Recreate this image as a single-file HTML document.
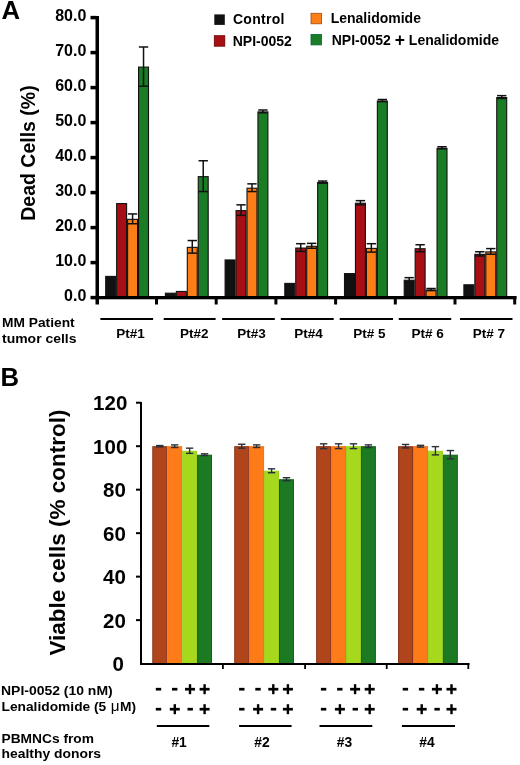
<!DOCTYPE html>
<html><head><meta charset="utf-8"><style>
html,body{margin:0;padding:0;background:#fff;}
body{width:520px;height:765px;overflow:hidden;font-family:"Liberation Sans",sans-serif;}
svg{display:block;will-change:transform;}
</style></head><body>
<svg width="520" height="765" viewBox="0 0 520 765">
<rect width="520" height="765" fill="#fff"/>
<text x="1.6" y="18.75" font-family="'Liberation Sans', sans-serif" font-weight="bold" font-size="25.7">A</text>
<text transform="translate(35,220.8) rotate(-90)" font-family="'Liberation Sans', sans-serif" font-weight="bold" font-size="19.5">Dead Cells (%)</text>
<rect x="90.5" y="295.85" width="6" height="3.5" fill="#000"/>
<text x="86.3" y="301.10" text-anchor="end" font-family="'Liberation Sans', sans-serif" font-weight="bold" font-size="16">0.0</text>
<rect x="90.5" y="260.85" width="6" height="3.5" fill="#000"/>
<text x="86.3" y="266.10" text-anchor="end" font-family="'Liberation Sans', sans-serif" font-weight="bold" font-size="16">10.0</text>
<rect x="90.5" y="225.85" width="6" height="3.5" fill="#000"/>
<text x="86.3" y="231.10" text-anchor="end" font-family="'Liberation Sans', sans-serif" font-weight="bold" font-size="16">20.0</text>
<rect x="90.5" y="190.85" width="6" height="3.5" fill="#000"/>
<text x="86.3" y="196.10" text-anchor="end" font-family="'Liberation Sans', sans-serif" font-weight="bold" font-size="16">30.0</text>
<rect x="90.5" y="155.85" width="6" height="3.5" fill="#000"/>
<text x="86.3" y="161.10" text-anchor="end" font-family="'Liberation Sans', sans-serif" font-weight="bold" font-size="16">40.0</text>
<rect x="90.5" y="120.85" width="6" height="3.5" fill="#000"/>
<text x="86.3" y="126.10" text-anchor="end" font-family="'Liberation Sans', sans-serif" font-weight="bold" font-size="16">50.0</text>
<rect x="90.5" y="85.85" width="6" height="3.5" fill="#000"/>
<text x="86.3" y="91.10" text-anchor="end" font-family="'Liberation Sans', sans-serif" font-weight="bold" font-size="16">60.0</text>
<rect x="90.5" y="50.85" width="6" height="3.5" fill="#000"/>
<text x="86.3" y="56.10" text-anchor="end" font-family="'Liberation Sans', sans-serif" font-weight="bold" font-size="16">70.0</text>
<rect x="90.5" y="15.85" width="6" height="3.5" fill="#000"/>
<text x="86.3" y="21.10" text-anchor="end" font-family="'Liberation Sans', sans-serif" font-weight="bold" font-size="16">80.0</text>
<rect x="105.70" y="276.40" width="9.95" height="21.70" fill="#111111" stroke="#111" stroke-width="1.1"/>
<rect x="116.65" y="203.60" width="9.95" height="94.50" fill="#a80f14" stroke="#111" stroke-width="1.1"/>
<rect x="127.60" y="219.35" width="9.95" height="78.75" fill="#fd7e17" stroke="#111" stroke-width="1.1"/>
<rect x="138.55" y="67.10" width="9.95" height="231.00" fill="#1a7d25" stroke="#111" stroke-width="1.1"/>
<line x1="132.57" y1="213.95" x2="132.57" y2="223.75" stroke="#111" stroke-width="1.5"/>
<line x1="127.90" y1="213.95" x2="137.25" y2="213.95" stroke="#111" stroke-width="1.5"/>
<line x1="127.90" y1="223.75" x2="137.25" y2="223.75" stroke="#111" stroke-width="1.5"/>
<line x1="143.53" y1="47.00" x2="143.53" y2="86.20" stroke="#111" stroke-width="1.5"/>
<line x1="138.85" y1="47.00" x2="148.20" y2="47.00" stroke="#111" stroke-width="1.5"/>
<line x1="138.85" y1="86.20" x2="148.20" y2="86.20" stroke="#111" stroke-width="1.5"/>
<rect x="165.40" y="293.20" width="9.95" height="4.90" fill="#111111" stroke="#111" stroke-width="1.1"/>
<rect x="176.35" y="291.45" width="9.95" height="6.65" fill="#a80f14" stroke="#111" stroke-width="1.1"/>
<rect x="187.30" y="247.35" width="9.95" height="50.75" fill="#fd7e17" stroke="#111" stroke-width="1.1"/>
<rect x="198.25" y="176.65" width="9.95" height="121.45" fill="#1a7d25" stroke="#111" stroke-width="1.1"/>
<line x1="192.28" y1="240.55" x2="192.28" y2="253.15" stroke="#111" stroke-width="1.5"/>
<line x1="187.60" y1="240.55" x2="196.95" y2="240.55" stroke="#111" stroke-width="1.5"/>
<line x1="187.60" y1="253.15" x2="196.95" y2="253.15" stroke="#111" stroke-width="1.5"/>
<line x1="203.22" y1="160.75" x2="203.22" y2="191.55" stroke="#111" stroke-width="1.5"/>
<line x1="198.55" y1="160.75" x2="207.90" y2="160.75" stroke="#111" stroke-width="1.5"/>
<line x1="198.55" y1="191.55" x2="207.90" y2="191.55" stroke="#111" stroke-width="1.5"/>
<rect x="225.10" y="259.95" width="9.95" height="38.15" fill="#111111" stroke="#111" stroke-width="1.1"/>
<rect x="236.05" y="210.60" width="9.95" height="87.50" fill="#a80f14" stroke="#111" stroke-width="1.1"/>
<rect x="247.00" y="188.20" width="9.95" height="109.90" fill="#fd7e17" stroke="#111" stroke-width="1.1"/>
<rect x="257.95" y="111.90" width="9.95" height="186.20" fill="#1a7d25" stroke="#111" stroke-width="1.1"/>
<line x1="241.03" y1="204.85" x2="241.03" y2="215.35" stroke="#111" stroke-width="1.5"/>
<line x1="236.35" y1="204.85" x2="245.70" y2="204.85" stroke="#111" stroke-width="1.5"/>
<line x1="236.35" y1="215.35" x2="245.70" y2="215.35" stroke="#111" stroke-width="1.5"/>
<line x1="251.98" y1="183.85" x2="251.98" y2="191.55" stroke="#111" stroke-width="1.5"/>
<line x1="247.30" y1="183.85" x2="256.65" y2="183.85" stroke="#111" stroke-width="1.5"/>
<line x1="247.30" y1="191.55" x2="256.65" y2="191.55" stroke="#111" stroke-width="1.5"/>
<line x1="262.93" y1="110.00" x2="262.93" y2="112.80" stroke="#111" stroke-width="1.5"/>
<line x1="258.25" y1="110.00" x2="267.60" y2="110.00" stroke="#111" stroke-width="1.5"/>
<line x1="258.25" y1="112.80" x2="267.60" y2="112.80" stroke="#111" stroke-width="1.5"/>
<rect x="284.80" y="283.40" width="9.95" height="14.70" fill="#111111" stroke="#111" stroke-width="1.1"/>
<rect x="295.75" y="248.05" width="9.95" height="50.05" fill="#a80f14" stroke="#111" stroke-width="1.1"/>
<rect x="306.70" y="246.30" width="9.95" height="51.80" fill="#fd7e17" stroke="#111" stroke-width="1.1"/>
<rect x="317.65" y="182.60" width="9.95" height="115.50" fill="#1a7d25" stroke="#111" stroke-width="1.1"/>
<line x1="300.73" y1="243.70" x2="300.73" y2="251.40" stroke="#111" stroke-width="1.5"/>
<line x1="296.05" y1="243.70" x2="305.40" y2="243.70" stroke="#111" stroke-width="1.5"/>
<line x1="296.05" y1="251.40" x2="305.40" y2="251.40" stroke="#111" stroke-width="1.5"/>
<line x1="311.68" y1="243.35" x2="311.68" y2="248.25" stroke="#111" stroke-width="1.5"/>
<line x1="307.00" y1="243.35" x2="316.35" y2="243.35" stroke="#111" stroke-width="1.5"/>
<line x1="307.00" y1="248.25" x2="316.35" y2="248.25" stroke="#111" stroke-width="1.5"/>
<line x1="322.62" y1="181.05" x2="322.62" y2="183.15" stroke="#111" stroke-width="1.5"/>
<line x1="317.95" y1="181.05" x2="327.30" y2="181.05" stroke="#111" stroke-width="1.5"/>
<line x1="317.95" y1="183.15" x2="327.30" y2="183.15" stroke="#111" stroke-width="1.5"/>
<rect x="344.50" y="273.60" width="9.95" height="24.50" fill="#111111" stroke="#111" stroke-width="1.1"/>
<rect x="355.45" y="203.25" width="9.95" height="94.85" fill="#a80f14" stroke="#111" stroke-width="1.1"/>
<rect x="366.40" y="248.40" width="9.95" height="49.70" fill="#fd7e17" stroke="#111" stroke-width="1.1"/>
<rect x="377.35" y="101.05" width="9.95" height="197.05" fill="#1a7d25" stroke="#111" stroke-width="1.1"/>
<line x1="360.43" y1="200.65" x2="360.43" y2="204.85" stroke="#111" stroke-width="1.5"/>
<line x1="355.75" y1="200.65" x2="365.10" y2="200.65" stroke="#111" stroke-width="1.5"/>
<line x1="355.75" y1="204.85" x2="365.10" y2="204.85" stroke="#111" stroke-width="1.5"/>
<line x1="371.38" y1="243.70" x2="371.38" y2="252.10" stroke="#111" stroke-width="1.5"/>
<line x1="366.70" y1="243.70" x2="376.05" y2="243.70" stroke="#111" stroke-width="1.5"/>
<line x1="366.70" y1="252.10" x2="376.05" y2="252.10" stroke="#111" stroke-width="1.5"/>
<line x1="382.33" y1="99.50" x2="382.33" y2="101.60" stroke="#111" stroke-width="1.5"/>
<line x1="377.65" y1="99.50" x2="387.00" y2="99.50" stroke="#111" stroke-width="1.5"/>
<line x1="377.65" y1="101.60" x2="387.00" y2="101.60" stroke="#111" stroke-width="1.5"/>
<rect x="404.20" y="280.25" width="9.95" height="17.85" fill="#111111" stroke="#111" stroke-width="1.1"/>
<rect x="415.15" y="248.75" width="9.95" height="49.35" fill="#a80f14" stroke="#111" stroke-width="1.1"/>
<rect x="426.10" y="290.05" width="9.95" height="8.05" fill="#fd7e17" stroke="#111" stroke-width="1.1"/>
<rect x="437.05" y="148.30" width="9.95" height="149.80" fill="#1a7d25" stroke="#111" stroke-width="1.1"/>
<line x1="409.18" y1="277.65" x2="409.18" y2="281.85" stroke="#111" stroke-width="1.5"/>
<line x1="404.50" y1="277.65" x2="413.85" y2="277.65" stroke="#111" stroke-width="1.5"/>
<line x1="404.50" y1="281.85" x2="413.85" y2="281.85" stroke="#111" stroke-width="1.5"/>
<line x1="420.12" y1="244.75" x2="420.12" y2="251.75" stroke="#111" stroke-width="1.5"/>
<line x1="415.45" y1="244.75" x2="424.80" y2="244.75" stroke="#111" stroke-width="1.5"/>
<line x1="415.45" y1="251.75" x2="424.80" y2="251.75" stroke="#111" stroke-width="1.5"/>
<line x1="431.07" y1="288.50" x2="431.07" y2="290.60" stroke="#111" stroke-width="1.5"/>
<line x1="426.40" y1="288.50" x2="435.75" y2="288.50" stroke="#111" stroke-width="1.5"/>
<line x1="426.40" y1="290.60" x2="435.75" y2="290.60" stroke="#111" stroke-width="1.5"/>
<line x1="442.02" y1="146.75" x2="442.02" y2="148.85" stroke="#111" stroke-width="1.5"/>
<line x1="437.35" y1="146.75" x2="446.70" y2="146.75" stroke="#111" stroke-width="1.5"/>
<line x1="437.35" y1="148.85" x2="446.70" y2="148.85" stroke="#111" stroke-width="1.5"/>
<rect x="463.90" y="284.80" width="9.95" height="13.30" fill="#111111" stroke="#111" stroke-width="1.1"/>
<rect x="474.85" y="254.35" width="9.95" height="43.75" fill="#a80f14" stroke="#111" stroke-width="1.1"/>
<rect x="485.80" y="251.90" width="9.95" height="46.20" fill="#fd7e17" stroke="#111" stroke-width="1.1"/>
<rect x="496.75" y="97.55" width="9.95" height="200.55" fill="#1a7d25" stroke="#111" stroke-width="1.1"/>
<line x1="479.83" y1="251.75" x2="479.83" y2="255.95" stroke="#111" stroke-width="1.5"/>
<line x1="475.15" y1="251.75" x2="484.50" y2="251.75" stroke="#111" stroke-width="1.5"/>
<line x1="475.15" y1="255.95" x2="484.50" y2="255.95" stroke="#111" stroke-width="1.5"/>
<line x1="490.78" y1="248.60" x2="490.78" y2="254.20" stroke="#111" stroke-width="1.5"/>
<line x1="486.10" y1="248.60" x2="495.45" y2="248.60" stroke="#111" stroke-width="1.5"/>
<line x1="486.10" y1="254.20" x2="495.45" y2="254.20" stroke="#111" stroke-width="1.5"/>
<line x1="501.73" y1="95.65" x2="501.73" y2="98.45" stroke="#111" stroke-width="1.5"/>
<line x1="497.05" y1="95.65" x2="506.40" y2="95.65" stroke="#111" stroke-width="1.5"/>
<line x1="497.05" y1="98.45" x2="506.40" y2="98.45" stroke="#111" stroke-width="1.5"/>
<rect x="95.5" y="16" width="3.5" height="288.5" fill="#000"/>
<rect x="95.5" y="296" width="421" height="3.3" fill="#000"/>
<rect x="155.00" y="296" width="3" height="8.5" fill="#000"/>
<rect x="214.70" y="296" width="3" height="8.5" fill="#000"/>
<rect x="274.40" y="296" width="3" height="8.5" fill="#000"/>
<rect x="334.10" y="296" width="3" height="8.5" fill="#000"/>
<rect x="393.80" y="296" width="3" height="8.5" fill="#000"/>
<rect x="453.50" y="296" width="3" height="8.5" fill="#000"/>
<rect x="513.20" y="296" width="3" height="8.5" fill="#000"/>
<rect x="214.3" y="14.4" width="10.5" height="10.5" fill="#111"/>
<rect x="214.3" y="35.7" width="10.5" height="10.5" fill="#a80f14" stroke="#600" stroke-width="0.8"/>
<rect x="311" y="13.3" width="10.5" height="10.5" fill="#fd7e17" stroke="#a04a10" stroke-width="0.8"/>
<rect x="311" y="34.4" width="10.5" height="10.5" fill="#1a7d25" stroke="#063" stroke-width="0.8"/>
<text x="232.9" y="23.9" font-family="'Liberation Sans', sans-serif" font-weight="bold" font-size="14" letter-spacing="0.3">Control</text>
<text x="232.7" y="45.9" font-family="'Liberation Sans', sans-serif" font-weight="bold" font-size="14">NPI-0052</text>
<text x="330.7" y="23.4" font-family="'Liberation Sans', sans-serif" font-weight="bold" font-size="14">Lenalidomide</text>
<text x="331.7" y="44.9" font-family="'Liberation Sans', sans-serif" font-weight="bold" font-size="14">NPI-0052 <tspan font-size="17.5" dy="0.6">+</tspan><tspan dy="-0.6"> Lenalidomide</tspan></text>
<text transform="translate(2,326.8) scale(1.02,1)" font-family="'Liberation Sans', sans-serif" font-weight="bold" font-size="13.5">MM Patient</text>
<text transform="translate(2,343) scale(1.02,1)" font-family="'Liberation Sans', sans-serif" font-weight="bold" font-size="13.7">tumor cells</text>
<rect x="100.40" y="318" width="52.70" height="2" fill="#000"/>
<rect x="163.70" y="318" width="51.90" height="2" fill="#000"/>
<rect x="222.10" y="318" width="52.70" height="2" fill="#000"/>
<rect x="280.80" y="318" width="52.90" height="2" fill="#000"/>
<rect x="339.70" y="318" width="53.30" height="2" fill="#000"/>
<rect x="398.75" y="318" width="52.50" height="2" fill="#000"/>
<rect x="460.00" y="318" width="52.50" height="2" fill="#000"/>
<text x="116.30" y="338.3" font-family="'Liberation Sans', sans-serif" font-weight="bold" font-size="13.5">Pt#1</text>
<text x="180.00" y="338.3" font-family="'Liberation Sans', sans-serif" font-weight="bold" font-size="13.5">Pt#2</text>
<text x="237.30" y="338.3" font-family="'Liberation Sans', sans-serif" font-weight="bold" font-size="13.5">Pt#3</text>
<text x="294.30" y="338.3" font-family="'Liberation Sans', sans-serif" font-weight="bold" font-size="13.5">Pt#4</text>
<text x="353.20" y="338.3" font-family="'Liberation Sans', sans-serif" font-weight="bold" font-size="13.5">Pt# 5</text>
<text x="411.60" y="338.3" font-family="'Liberation Sans', sans-serif" font-weight="bold" font-size="13.5">Pt# 6</text>
<text x="472.85" y="338.3" font-family="'Liberation Sans', sans-serif" font-weight="bold" font-size="13.5">Pt# 7</text>
<text x="0.4" y="386.2" font-family="'Liberation Sans', sans-serif" font-weight="bold" font-size="25.7">B</text>
<text transform="translate(65.3,655.5) rotate(-90)" font-family="'Liberation Sans', sans-serif" font-weight="bold" font-size="22.5">Viable cells (% control)</text>
<text x="123.8" y="671.10" text-anchor="end" font-family="'Liberation Sans', sans-serif" font-weight="bold" font-size="20.5">0</text>
<rect x="136" y="619.12" width="5" height="2" fill="#000"/>
<text x="125.9" y="627.62" text-anchor="end" font-family="'Liberation Sans', sans-serif" font-weight="bold" font-size="20.5">20</text>
<rect x="136" y="575.64" width="5" height="2" fill="#000"/>
<text x="125.9" y="584.14" text-anchor="end" font-family="'Liberation Sans', sans-serif" font-weight="bold" font-size="20.5">40</text>
<rect x="136" y="532.16" width="5" height="2" fill="#000"/>
<text x="125.9" y="540.66" text-anchor="end" font-family="'Liberation Sans', sans-serif" font-weight="bold" font-size="20.5">60</text>
<rect x="136" y="488.68" width="5" height="2" fill="#000"/>
<text x="125.9" y="497.18" text-anchor="end" font-family="'Liberation Sans', sans-serif" font-weight="bold" font-size="20.5">80</text>
<rect x="136" y="445.20" width="5" height="2" fill="#000"/>
<text x="127.3" y="453.70" text-anchor="end" font-family="'Liberation Sans', sans-serif" font-weight="bold" font-size="20.5">100</text>
<rect x="136" y="401.72" width="5" height="2" fill="#000"/>
<text x="127.3" y="410.22" text-anchor="end" font-family="'Liberation Sans', sans-serif" font-weight="bold" font-size="20.5">120</text>
<rect x="152.80" y="446.70" width="13.93" height="217.40" fill="#b0441a" stroke="#8a3216" stroke-width="1"/>
<rect x="167.73" y="446.70" width="13.93" height="217.40" fill="#fe7b1a" stroke="#f07212" stroke-width="1"/>
<rect x="182.66" y="451.27" width="13.93" height="212.83" fill="#a6d91e" stroke="#9bd01a" stroke-width="1"/>
<rect x="197.59" y="455.18" width="13.93" height="208.92" fill="#1b7a22" stroke="#11601a" stroke-width="1"/>
<line x1="159.77" y1="445.55" x2="159.77" y2="446.85" stroke="#2b2f38" stroke-width="1.4"/>
<line x1="156.07" y1="445.55" x2="163.47" y2="445.55" stroke="#2b2f38" stroke-width="1.4"/>
<line x1="156.07" y1="446.85" x2="163.47" y2="446.85" stroke="#2b2f38" stroke-width="1.4"/>
<line x1="174.70" y1="444.90" x2="174.70" y2="447.50" stroke="#2b2f38" stroke-width="1.4"/>
<line x1="171.00" y1="444.90" x2="178.40" y2="444.90" stroke="#2b2f38" stroke-width="1.4"/>
<line x1="171.00" y1="447.50" x2="178.40" y2="447.50" stroke="#2b2f38" stroke-width="1.4"/>
<line x1="189.63" y1="448.16" x2="189.63" y2="453.37" stroke="#2b2f38" stroke-width="1.4"/>
<line x1="185.93" y1="448.16" x2="193.33" y2="448.16" stroke="#2b2f38" stroke-width="1.4"/>
<line x1="185.93" y1="453.37" x2="193.33" y2="453.37" stroke="#2b2f38" stroke-width="1.4"/>
<line x1="204.56" y1="453.81" x2="204.56" y2="455.55" stroke="#2b2f38" stroke-width="1.4"/>
<line x1="200.86" y1="453.81" x2="208.25" y2="453.81" stroke="#2b2f38" stroke-width="1.4"/>
<line x1="200.86" y1="455.55" x2="208.25" y2="455.55" stroke="#2b2f38" stroke-width="1.4"/>
<rect x="234.73" y="446.70" width="13.93" height="217.40" fill="#b0441a" stroke="#8a3216" stroke-width="1"/>
<rect x="249.66" y="446.70" width="13.93" height="217.40" fill="#fe7b1a" stroke="#f07212" stroke-width="1"/>
<rect x="264.59" y="471.27" width="13.93" height="192.83" fill="#a6d91e" stroke="#9bd01a" stroke-width="1"/>
<rect x="279.52" y="479.74" width="13.93" height="184.36" fill="#1b7a22" stroke="#11601a" stroke-width="1"/>
<line x1="241.70" y1="444.24" x2="241.70" y2="448.16" stroke="#2b2f38" stroke-width="1.4"/>
<line x1="238.00" y1="444.24" x2="245.40" y2="444.24" stroke="#2b2f38" stroke-width="1.4"/>
<line x1="238.00" y1="448.16" x2="245.40" y2="448.16" stroke="#2b2f38" stroke-width="1.4"/>
<line x1="256.62" y1="444.90" x2="256.62" y2="447.50" stroke="#2b2f38" stroke-width="1.4"/>
<line x1="252.93" y1="444.90" x2="260.32" y2="444.90" stroke="#2b2f38" stroke-width="1.4"/>
<line x1="252.93" y1="447.50" x2="260.32" y2="447.50" stroke="#2b2f38" stroke-width="1.4"/>
<line x1="271.56" y1="468.81" x2="271.56" y2="472.72" stroke="#2b2f38" stroke-width="1.4"/>
<line x1="267.86" y1="468.81" x2="275.25" y2="468.81" stroke="#2b2f38" stroke-width="1.4"/>
<line x1="267.86" y1="472.72" x2="275.25" y2="472.72" stroke="#2b2f38" stroke-width="1.4"/>
<line x1="286.49" y1="477.72" x2="286.49" y2="480.77" stroke="#2b2f38" stroke-width="1.4"/>
<line x1="282.79" y1="477.72" x2="290.19" y2="477.72" stroke="#2b2f38" stroke-width="1.4"/>
<line x1="282.79" y1="480.77" x2="290.19" y2="480.77" stroke="#2b2f38" stroke-width="1.4"/>
<rect x="316.66" y="446.70" width="13.93" height="217.40" fill="#b0441a" stroke="#8a3216" stroke-width="1"/>
<rect x="331.59" y="446.70" width="13.93" height="217.40" fill="#fe7b1a" stroke="#f07212" stroke-width="1"/>
<rect x="346.52" y="446.70" width="13.93" height="217.40" fill="#a6d91e" stroke="#9bd01a" stroke-width="1"/>
<rect x="361.45" y="446.70" width="13.93" height="217.40" fill="#1b7a22" stroke="#11601a" stroke-width="1"/>
<line x1="323.62" y1="443.81" x2="323.62" y2="448.59" stroke="#2b2f38" stroke-width="1.4"/>
<line x1="319.93" y1="443.81" x2="327.32" y2="443.81" stroke="#2b2f38" stroke-width="1.4"/>
<line x1="319.93" y1="448.59" x2="327.32" y2="448.59" stroke="#2b2f38" stroke-width="1.4"/>
<line x1="338.56" y1="443.81" x2="338.56" y2="448.59" stroke="#2b2f38" stroke-width="1.4"/>
<line x1="334.86" y1="443.81" x2="342.25" y2="443.81" stroke="#2b2f38" stroke-width="1.4"/>
<line x1="334.86" y1="448.59" x2="342.25" y2="448.59" stroke="#2b2f38" stroke-width="1.4"/>
<line x1="353.49" y1="443.81" x2="353.49" y2="448.59" stroke="#2b2f38" stroke-width="1.4"/>
<line x1="349.79" y1="443.81" x2="357.19" y2="443.81" stroke="#2b2f38" stroke-width="1.4"/>
<line x1="349.79" y1="448.59" x2="357.19" y2="448.59" stroke="#2b2f38" stroke-width="1.4"/>
<line x1="368.42" y1="444.90" x2="368.42" y2="447.50" stroke="#2b2f38" stroke-width="1.4"/>
<line x1="364.72" y1="444.90" x2="372.12" y2="444.90" stroke="#2b2f38" stroke-width="1.4"/>
<line x1="364.72" y1="447.50" x2="372.12" y2="447.50" stroke="#2b2f38" stroke-width="1.4"/>
<rect x="398.59" y="446.70" width="13.93" height="217.40" fill="#b0441a" stroke="#8a3216" stroke-width="1"/>
<rect x="413.52" y="446.70" width="13.93" height="217.40" fill="#fe7b1a" stroke="#f07212" stroke-width="1"/>
<rect x="428.45" y="451.27" width="13.93" height="212.83" fill="#a6d91e" stroke="#9bd01a" stroke-width="1"/>
<rect x="443.38" y="455.18" width="13.93" height="208.92" fill="#1b7a22" stroke="#11601a" stroke-width="1"/>
<line x1="405.56" y1="444.46" x2="405.56" y2="447.94" stroke="#2b2f38" stroke-width="1.4"/>
<line x1="401.86" y1="444.46" x2="409.25" y2="444.46" stroke="#2b2f38" stroke-width="1.4"/>
<line x1="401.86" y1="447.94" x2="409.25" y2="447.94" stroke="#2b2f38" stroke-width="1.4"/>
<line x1="420.49" y1="445.33" x2="420.49" y2="447.07" stroke="#2b2f38" stroke-width="1.4"/>
<line x1="416.79" y1="445.33" x2="424.19" y2="445.33" stroke="#2b2f38" stroke-width="1.4"/>
<line x1="416.79" y1="447.07" x2="424.19" y2="447.07" stroke="#2b2f38" stroke-width="1.4"/>
<line x1="435.42" y1="446.63" x2="435.42" y2="454.90" stroke="#2b2f38" stroke-width="1.4"/>
<line x1="431.72" y1="446.63" x2="439.12" y2="446.63" stroke="#2b2f38" stroke-width="1.4"/>
<line x1="431.72" y1="454.90" x2="439.12" y2="454.90" stroke="#2b2f38" stroke-width="1.4"/>
<line x1="450.35" y1="450.55" x2="450.35" y2="458.81" stroke="#2b2f38" stroke-width="1.4"/>
<line x1="446.65" y1="450.55" x2="454.05" y2="450.55" stroke="#2b2f38" stroke-width="1.4"/>
<line x1="446.65" y1="458.81" x2="454.05" y2="458.81" stroke="#2b2f38" stroke-width="1.4"/>
<rect x="140" y="402" width="2" height="263" fill="#000"/>
<rect x="140" y="663" width="329.5" height="2" fill="#000"/>
<rect x="222.00" y="663" width="1.8" height="6" fill="#000"/>
<rect x="304.20" y="663" width="1.8" height="6" fill="#000"/>
<rect x="385.80" y="663" width="1.8" height="6" fill="#000"/>
<rect x="467.40" y="663" width="1.8" height="6" fill="#000"/>
<rect x="155.80" y="687.85" width="5.4" height="2.7" fill="#000"/>
<rect x="172.00" y="687.85" width="5.4" height="2.7" fill="#000"/>
<rect x="185.00" y="687.85" width="10" height="2.7" fill="#000"/>
<rect x="188.80" y="684.20" width="2.4" height="10" fill="#000"/>
<rect x="199.60" y="687.85" width="10" height="2.7" fill="#000"/>
<rect x="203.40" y="684.20" width="2.4" height="10" fill="#000"/>
<rect x="155.80" y="707.85" width="5.4" height="2.7" fill="#000"/>
<rect x="169.80" y="707.85" width="10" height="2.7" fill="#000"/>
<rect x="173.60" y="704.20" width="2.4" height="10" fill="#000"/>
<rect x="187.50" y="707.85" width="5.4" height="2.7" fill="#000"/>
<rect x="199.60" y="707.85" width="10" height="2.7" fill="#000"/>
<rect x="203.40" y="704.20" width="2.4" height="10" fill="#000"/>
<rect x="239.10" y="687.85" width="5.4" height="2.7" fill="#000"/>
<rect x="255.30" y="687.85" width="5.4" height="2.7" fill="#000"/>
<rect x="268.30" y="687.85" width="10" height="2.7" fill="#000"/>
<rect x="272.10" y="684.20" width="2.4" height="10" fill="#000"/>
<rect x="282.90" y="687.85" width="10" height="2.7" fill="#000"/>
<rect x="286.70" y="684.20" width="2.4" height="10" fill="#000"/>
<rect x="239.10" y="707.85" width="5.4" height="2.7" fill="#000"/>
<rect x="253.10" y="707.85" width="10" height="2.7" fill="#000"/>
<rect x="256.90" y="704.20" width="2.4" height="10" fill="#000"/>
<rect x="270.80" y="707.85" width="5.4" height="2.7" fill="#000"/>
<rect x="282.90" y="707.85" width="10" height="2.7" fill="#000"/>
<rect x="286.70" y="704.20" width="2.4" height="10" fill="#000"/>
<rect x="320.90" y="687.85" width="5.4" height="2.7" fill="#000"/>
<rect x="337.10" y="687.85" width="5.4" height="2.7" fill="#000"/>
<rect x="350.10" y="687.85" width="10" height="2.7" fill="#000"/>
<rect x="353.90" y="684.20" width="2.4" height="10" fill="#000"/>
<rect x="364.70" y="687.85" width="10" height="2.7" fill="#000"/>
<rect x="368.50" y="684.20" width="2.4" height="10" fill="#000"/>
<rect x="320.90" y="707.85" width="5.4" height="2.7" fill="#000"/>
<rect x="334.90" y="707.85" width="10" height="2.7" fill="#000"/>
<rect x="338.70" y="704.20" width="2.4" height="10" fill="#000"/>
<rect x="352.60" y="707.85" width="5.4" height="2.7" fill="#000"/>
<rect x="364.70" y="707.85" width="10" height="2.7" fill="#000"/>
<rect x="368.50" y="704.20" width="2.4" height="10" fill="#000"/>
<rect x="402.70" y="687.85" width="5.4" height="2.7" fill="#000"/>
<rect x="418.90" y="687.85" width="5.4" height="2.7" fill="#000"/>
<rect x="431.90" y="687.85" width="10" height="2.7" fill="#000"/>
<rect x="435.70" y="684.20" width="2.4" height="10" fill="#000"/>
<rect x="446.50" y="687.85" width="10" height="2.7" fill="#000"/>
<rect x="450.30" y="684.20" width="2.4" height="10" fill="#000"/>
<rect x="402.70" y="707.85" width="5.4" height="2.7" fill="#000"/>
<rect x="416.70" y="707.85" width="10" height="2.7" fill="#000"/>
<rect x="420.50" y="704.20" width="2.4" height="10" fill="#000"/>
<rect x="434.40" y="707.85" width="5.4" height="2.7" fill="#000"/>
<rect x="446.50" y="707.85" width="10" height="2.7" fill="#000"/>
<rect x="450.30" y="704.20" width="2.4" height="10" fill="#000"/>
<rect x="156.80" y="725" width="52.50" height="2" fill="#000"/>
<rect x="239.10" y="725" width="52.50" height="2" fill="#000"/>
<rect x="319.50" y="725" width="52.80" height="2" fill="#000"/>
<rect x="401.90" y="725" width="53.10" height="2" fill="#000"/>
<text transform="translate(171.40,746.7) scale(0.95,1)" font-family="'Liberation Sans', sans-serif" font-weight="bold" font-size="14.6">#1</text>
<text transform="translate(254.30,746.7) scale(0.95,1)" font-family="'Liberation Sans', sans-serif" font-weight="bold" font-size="14.6">#2</text>
<text transform="translate(336.70,746.7) scale(0.95,1)" font-family="'Liberation Sans', sans-serif" font-weight="bold" font-size="14.6">#3</text>
<text transform="translate(419.30,746.7) scale(0.95,1)" font-family="'Liberation Sans', sans-serif" font-weight="bold" font-size="14.6">#4</text>
<text transform="translate(1,694.8) scale(1.035,1)" font-family="'Liberation Sans', sans-serif" font-weight="bold" font-size="13.5">NPI-0052 (10 nM)</text>
<text transform="translate(1.5,711.2) scale(1.02,1)" font-family="'Liberation Sans', sans-serif" font-weight="bold" font-size="13.5">Lenalidomide (5 <tspan font-weight="normal" font-size="15" dx="0.6">&#956;</tspan><tspan dx="0.6">M)</tspan></text>
<text transform="translate(1.5,742.7) scale(1.02,1)" font-family="'Liberation Sans', sans-serif" font-weight="bold" font-size="13.5">PBMNCs from</text>
<text transform="translate(1.5,758.1) scale(1.03,1)" font-family="'Liberation Sans', sans-serif" font-weight="bold" font-size="13.5">healthy donors</text>
</svg>
</body></html>
